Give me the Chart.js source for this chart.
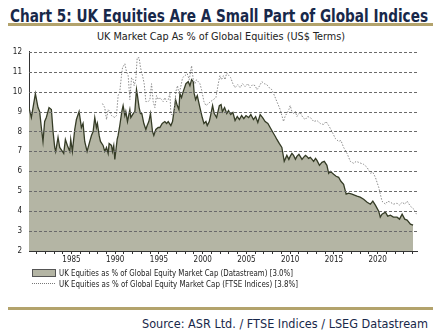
<!DOCTYPE html>
<html><head><meta charset="utf-8">
<script src="https://cdn.jsdelivr.net/npm/chart.js@4.4.1/dist/chart.umd.min.js"></script>
<style>
html,body{margin:0;padding:0;background:#fff;width:437px;height:331px;overflow:hidden;}
.t{position:absolute;white-space:nowrap;transform-origin:0 50%;line-height:1;}
#title{left:10px;top:5px;font:bold 18px "DejaVu Sans Condensed";color:#18284a;}
#sub{left:97px;top:31px;font:10px "DejaVu Sans Condensed";color:#222;}
#src{left:142px;top:316px;font:13px "DejaVu Sans Condensed";color:#18284a;}
.gold{position:absolute;left:8px;width:425px;height:3px;background:#b3a36c;}
#l1{left:59px;top:268px;font:9px "DejaVu Sans Condensed";color:#222;}
#l2{left:59px;top:279px;font:9px "DejaVu Sans Condensed";color:#222;}
#sw{position:absolute;left:32px;top:269px;width:22px;height:6px;background:#b4b5a4;border:1px solid #555;}
#dl{position:absolute;left:32px;top:283px;width:23px;height:0;border-top:1px dotted #777;}
#cv{position:absolute;left:0;top:40px;}
</style></head><body>
<div id="title" class="t" data-w="418">Chart 5: UK Equities Are A Small Part of Global Indices</div>
<div class="gold" style="top:23px"></div>
<div id="sub" class="t" data-w="248">UK Market Cap As % of Global Equities (US$ Terms)</div>
<canvas id="cv" width="437" height="230"></canvas>
<div id="sw"></div>
<div id="l1" class="t" data-w="234">UK Equities as % of Global Equity Market Cap (Datastream) [3.0%]</div>
<div id="dl"></div>
<div id="l2" class="t" data-w="239">UK Equities as % of Global Equity Market Cap (FTSE Indices) [3.8%]</div>
<div class="gold" style="top:307px"></div>
<div id="src" class="t" data-w="286">Source: ASR Ltd. / FTSE Indices / LSEG Datastream</div>
<script>
// Datastream series
const dsYears = [1980.14,1980.41,1980.87,1981.17,1981.36,1981.55,1981.74,1981.93,1982.12,1982.43,1982.70,1982.89,1983.08,1983.19,1983.46,1983.65,1983.96,1984.11,1984.30,1984.53,1984.80,1984.91,1985.10,1985.37,1985.56,1985.87,1986.13,1986.32,1986.51,1986.78,1987.09,1987.28,1987.47,1987.66,1987.85,1987.96,1988.16,1988.31,1988.61,1988.80,1989.00,1989.19,1989.30,1989.57,1989.68,1989.83,1989.95,1990.06,1990.22,1990.33,1990.52,1990.75,1990.90,1991.10,1991.21,1991.40,1991.67,1991.78,1992.05,1992.24,1992.43,1992.54,1992.73,1992.89,1993.04,1993.27,1993.50,1993.65,1993.84,1994.03,1994.26,1994.41,1994.64,1994.91,1995.10,1995.37,1995.67,1995.87,1996.06,1996.36,1996.55,1996.71,1996.90,1997.09,1997.28,1997.39,1997.58,1997.77,1998.08,1998.35,1998.54,1998.73,1998.92,1999.03,1999.19,1999.38,1999.53,1999.68,1999.95,2000.14,2000.37,2000.52,2000.75,2000.90,2001.13,2001.32,2001.59,2001.90,2002.10,2002.25,2002.50,2002.75,2002.95,2003.20,2003.45,2003.70,2003.95,2004.20,2004.45,2004.70,2004.95,2005.25,2005.50,2005.80,2006.05,2006.30,2006.57,2006.85,2007.14,2007.45,2007.71,2008.10,2008.30,2008.48,2008.75,2009.05,2009.32,2009.62,2009.85,2010.00,2010.20,2010.39,2010.60,2010.77,2011.00,2011.15,2011.35,2011.53,2011.75,2011.91,2012.10,2012.30,2012.50,2012.68,2012.90,2013.06,2013.35,2013.63,2013.90,2014.20,2014.40,2014.59,2014.97,2015.25,2015.54,2015.80,2016.11,2016.40,2016.69,2017.07,2017.35,2017.64,2018.00,2018.40,2018.80,2019.17,2019.45,2019.74,2020.12,2020.30,2020.50,2020.89,2021.15,2021.46,2021.80,2022.22,2022.50,2022.80,2023.10,2023.37,2023.75,2024.05,2024.32,2024.45];
const dsValues = [9.2,8.7,9.9,9.2,9.0,8.2,7.5,8.5,8.7,9.2,9.1,8.0,7.2,7.0,7.7,7.2,7.0,6.9,7.6,7.3,7.0,7.6,7.0,8.1,8.6,9.0,8.2,8.4,7.5,7.0,7.5,7.8,8.0,8.7,8.2,8.4,7.8,7.5,7.3,7.0,7.2,6.9,7.4,7.3,7.0,7.3,6.6,7.0,7.6,7.8,8.3,9.0,9.3,8.8,9.0,8.5,9.1,8.7,8.9,9.0,10.1,9.8,9.2,8.9,8.9,8.4,8.1,8.3,8.5,8.9,8.0,7.8,8.1,8.2,8.2,8.4,8.5,8.4,8.5,8.3,8.5,9.0,9.6,9.3,9.1,9.9,9.7,10.0,10.4,10.5,10.3,10.6,10.5,9.9,9.6,9.8,9.5,9.2,8.7,8.4,8.5,8.3,8.5,8.8,9.3,8.9,8.7,9.3,9.35,9.0,9.2,8.9,9.05,8.85,8.95,8.55,8.75,8.6,8.8,8.65,8.8,8.7,8.85,8.6,8.75,8.45,8.85,8.7,8.5,8.4,8.2,7.9,7.75,7.6,7.4,7.2,6.5,6.8,6.6,6.75,6.9,6.8,6.6,6.75,6.85,6.75,6.6,6.7,6.8,6.75,6.65,6.7,6.6,6.5,6.65,6.55,6.3,6.45,6.5,6.3,5.9,6.0,5.85,5.75,5.7,5.5,5.35,4.85,4.9,4.85,4.8,4.75,4.7,4.6,4.45,4.35,4.5,4.3,4.0,3.7,3.85,3.95,3.75,3.8,3.7,3.7,3.6,3.85,3.6,3.55,3.35,3.3];
// FTSE Indices series
const ftseYears = [1988.54,1988.80,1989.00,1989.19,1989.38,1989.57,1989.95,1990.14,1990.33,1990.52,1990.71,1990.83,1991.10,1991.29,1991.48,1991.67,1991.86,1992.05,1992.16,1992.35,1992.51,1992.73,1992.89,1993.12,1993.31,1993.50,1993.77,1993.96,1994.15,1994.34,1994.53,1994.72,1994.91,1995.10,1995.29,1995.48,1995.67,1995.87,1996.06,1996.25,1996.36,1996.55,1996.74,1996.93,1997.12,1997.28,1997.47,1997.70,1997.96,1998.23,1998.46,1998.73,1998.92,1999.11,1999.30,1999.49,1999.68,1999.87,2000.14,2000.37,2000.64,2000.90,2001.21,2001.51,2001.78,2001.97,2002.15,2002.37,2002.55,2002.75,2003.00,2003.20,2003.45,2003.70,2004.00,2004.28,2004.55,2004.85,2005.15,2005.42,2005.70,2005.99,2006.20,2006.38,2006.76,2007.05,2007.33,2007.60,2007.90,2008.20,2008.48,2008.86,2009.24,2009.45,2009.62,2009.85,2010.00,2010.20,2010.39,2010.60,2010.77,2011.00,2011.15,2011.45,2011.72,2012.00,2012.30,2012.70,2013.06,2013.45,2013.82,2014.10,2014.40,2014.78,2015.16,2015.54,2015.80,2016.11,2016.50,2016.88,2017.26,2017.55,2017.83,2018.10,2018.40,2018.79,2019.17,2019.45,2019.74,2020.12,2020.50,2020.89,2021.15,2021.46,2021.80,2022.22,2022.50,2022.80,2023.10,2023.37,2023.75,2024.13,2024.44];
const ftseValues = [9.4,9.2,8.6,9.1,9.0,8.8,8.7,8.8,9.8,10.0,10.8,11.2,11.4,11.0,10.8,9.6,10.7,10.6,10.3,10.6,11.7,11.7,11.2,10.8,10.4,9.5,9.5,9.6,10.4,9.5,9.2,9.8,9.6,9.7,9.6,9.5,9.7,9.5,9.6,9.9,8.9,8.8,9.0,10.0,10.3,9.9,10.2,10.7,10.8,10.9,10.6,11.3,10.6,10.4,10.6,10.5,10.4,10.1,9.5,9.3,9.4,9.5,9.6,9.7,10.4,10.8,10.6,10.8,10.6,10.95,10.8,10.7,10.4,10.2,10.35,10.2,10.4,10.25,10.4,10.2,10.35,10.3,10.1,10.2,10.5,10.4,10.35,10.2,10.1,9.8,9.5,9.1,8.5,8.8,8.9,9.1,9.3,9.0,8.9,9.0,8.75,8.9,8.95,8.7,8.6,8.75,8.7,8.5,8.55,8.4,8.35,8.5,8.3,8.0,7.65,7.5,7.55,7.2,6.9,6.5,6.4,6.5,6.45,6.4,6.35,6.2,5.9,5.95,5.7,5.2,4.5,4.35,4.5,4.45,4.35,4.4,4.3,4.45,4.35,4.5,4.25,4.1,3.85];
const yTickValues = [2,3,4,5,6,7,8,9,10,11,12];
const xLabelYears = [1985,1990,1995,2000,2005,2010,2015,2020];
const xMin = 1980.14, xMax = 2024.5;

const tickFont = {family:'DejaVu Sans Condensed', size:8};
const gridOver = {
  id:'gridOver',
  afterDatasetsDraw(chart){
    const {ctx, chartArea:a, scales:{y}} = chart;
    ctx.save();
    ctx.strokeStyle = '#6a6a6a'; ctx.lineWidth = 1; ctx.setLineDash([3,2]);
    yTickValues.forEach(v=>{
      if (v===2) return;
      const py = Math.round(y.getPixelForValue(v))+0.5;
      ctx.beginPath(); ctx.moveTo(a.left, py); ctx.lineTo(a.right, py); ctx.stroke();
    });
    ctx.restore();
  }
};
new Chart(document.getElementById('cv'), {
  type:'line',
  data:{datasets:[
    {label:'UK Equities as % of Global Equity Market Cap (FTSE Indices) [3.8%]',
     data: ftseYears.map((x,i)=>({x, y: ftseValues[i]})),
     borderColor:'#8c8c8c', borderWidth:1, borderDash:[1.5,1.5], pointRadius:0, fill:false, order:0},
    {label:'UK Equities as % of Global Equity Market Cap (Datastream) [3.0%]',
     data: dsYears.map((x,i)=>({x, y: dsValues[i]})),
     borderColor:'#353c26', borderWidth:1.3, backgroundColor:'#b4b5a4', pointRadius:0, fill:'start', order:1}
  ]},
  options:{
    responsive:false, animation:false, devicePixelRatio:1,
    layout:{padding:{left:0,right:20,top:9,bottom:0}},
    plugins:{legend:{display:false}, tooltip:{enabled:false}},
    scales:{
      x:{type:'linear', min:xMin, max:xMax,
         afterBuildTicks(s){ const t=[]; for(let yv=1981; yv<=2024; yv++) t.push({value:yv}); s.ticks=t; },
         afterFit(s){ s.height = 19; },
         ticks:{autoSkip:false, maxRotation:0, padding:1, color:'#222', font:tickFont,
                callback:(v)=> xLabelYears.includes(v) ? String(v) : ''},
         grid:{drawOnChartArea:false, drawTicks:true, tickLength:3, color:'#333'},
         border:{color:'#333'}},
      y:{min:2, max:12,
         afterBuildTicks(s){ s.ticks = yTickValues.map(v=>({value:v})); },
         afterFit(s){ s.width = 29; },
         ticks:{padding:7, color:'#222', font:tickFont},
         grid:{display:false, drawTicks:false},
         border:{display:true, color:'#333'}}
    }
  },
  plugins:[gridOver]
});
document.querySelectorAll('.t').forEach(el=>{
  const w = el.getBoundingClientRect().width;
  el.style.transform = 'scaleX(' + (parseFloat(el.dataset.w)/w) + ')';
});
</script>
</body></html>
